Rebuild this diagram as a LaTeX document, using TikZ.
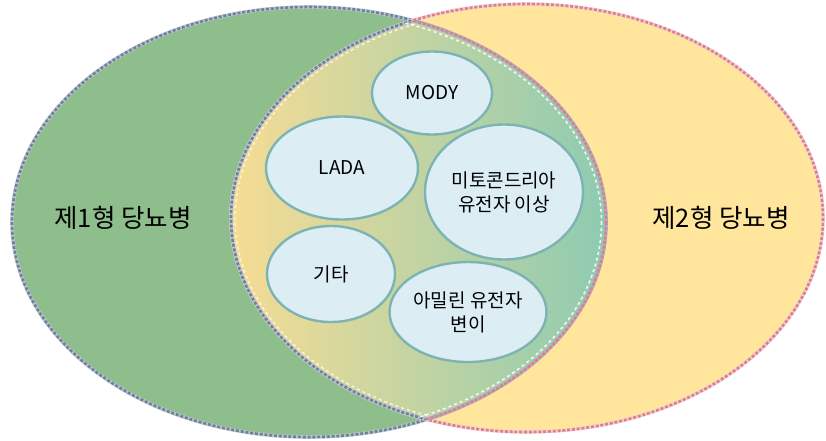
\documentclass[tikz,border=0pt]{standalone}
\usepackage{fontspec}
\setmainfont{Noto Sans CJK KR}
\usetikzlibrary{shapes.geometric}
\definecolor{tgreen}{HTML}{8DBE8B}
\definecolor{tyellow}{HTML}{FFE69C}
\definecolor{bluebord}{HTML}{6E8299}
\definecolor{pinkbord}{HTML}{DD8089}
\definecolor{lensY}{HTML}{F6DC94}
\definecolor{lensM}{HTML}{D4D79F}
\definecolor{lensG}{HTML}{8ECBB1}
\definecolor{subfill}{HTML}{DCEEF4}
\definecolor{subbord}{HTML}{7DB4B3}
\tikzset{
  bbord/.style={draw=bluebord, line width=2.6pt, dash pattern=on 3pt off 1.8pt},
  bback/.style={draw=bluebord!45, line width=3.6pt},
  pbord/.style={draw=pinkbord, line width=2.6pt, dash pattern=on 3pt off 1.8pt},
  pback/.style={draw=pinkbord!35, line width=3.6pt},
  wdash/.style={draw=white, line width=1.6pt, dash pattern=on 3pt off 3pt, opacity=0.85},
  sub/.style={ellipse, draw=subbord, line width=2.4pt, fill=subfill, inner sep=0pt,
    align=center, font=\fontsize{19}{24}\selectfont, text=black},
  biglabel/.style={font=\fontsize{25.5}{30}\selectfont, text=black}
}
\begin{document}
\begin{tikzpicture}[x=1pt,y=-1pt]
\useasboundingbox (0,0) rectangle (826,440);
% base fills
\fill[tgreen] (309,222) ellipse [x radius=297, y radius=215];
\fill[tyellow] (527,218) ellipse [x radius=296, y radius=214];
% lens with gradient
\begin{scope}
  \clip (309,222) ellipse [x radius=297, y radius=215];
  \clip (527,218) ellipse [x radius=296, y radius=214];
  \shade[left color=lensY, middle color=lensM, right color=lensG] (231,0) rectangle (607,440);
\end{scope}
% outer borders
\path[bback] (309,222) ellipse [x radius=297, y radius=215];
\path[bbord] (309,222) ellipse [x radius=297, y radius=215];
\path[pback] (527,218) ellipse [x radius=296, y radius=214];
\path[pbord] (527,218) ellipse [x radius=296, y radius=214];
% lens left arc: right ellipse border inside green -> blue
\begin{scope}
  \clip (309,222) ellipse [x radius=297, y radius=215];
  \path[bback] (527,218) ellipse [x radius=296, y radius=214];
  \path[bbord] (527,218) ellipse [x radius=296, y radius=214];
  \path[draw=white!70!lensY, line width=1.4pt, dash pattern=on 3pt off 3pt] (527,218) ellipse [x radius=292, y radius=210];
\end{scope}
% lens right arc: left ellipse border inside yellow -> pink + white
\begin{scope}
  \clip (527,218) ellipse [x radius=296, y radius=214];
  \path[draw=bluebord!60, line width=3.6pt] (309,222) ellipse [x radius=297, y radius=215];
  \path[pbord] (309,222) ellipse [x radius=297, y radius=215];
  \path[wdash] (309,222) ellipse [x radius=292.5, y radius=210.5];
\end{scope}
% sub ellipses
\node[sub, minimum width=120pt, minimum height=83pt] (mody) at (432,93) {MODY};
\node[sub, minimum width=152pt, minimum height=103pt] (lada) at (342,168) {LADA};
\node[sub, minimum width=158pt, minimum height=135pt] (mito) at (504,192) {미토콘드리아\\유전자 이상};
\node[sub, minimum width=128pt, minimum height=96pt] (etc) at (331,274) {기타};
\node[sub, minimum width=157pt, minimum height=100pt] (amy) at (468,312) {아밀린 유전자\\변이};
% main labels
\node[biglabel] (t1) at (123,218) {제1형 당뇨병};
\node[biglabel] (t2) at (721,218) {제2형 당뇨병};
\end{tikzpicture}
\end{document}
